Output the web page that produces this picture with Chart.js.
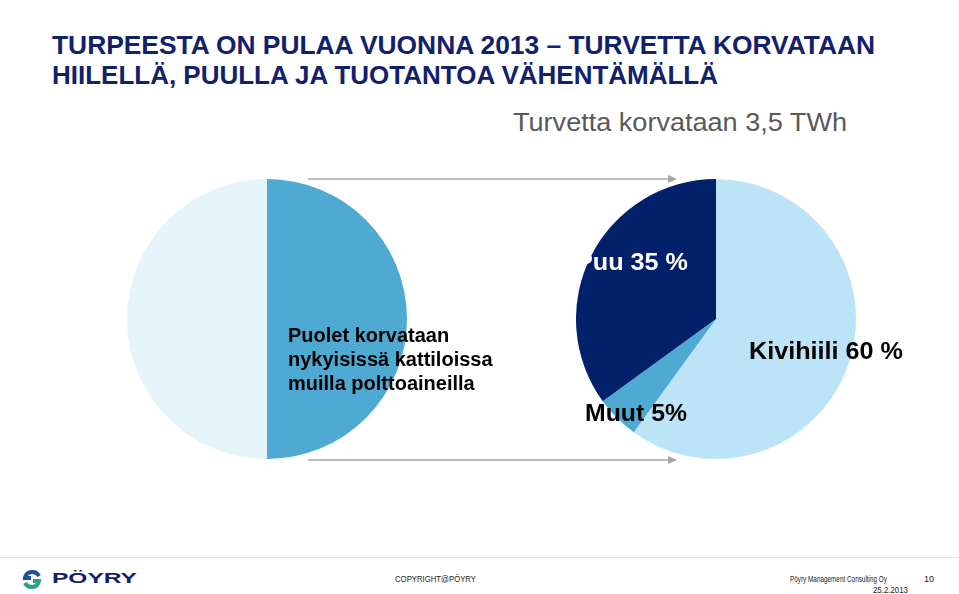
<!DOCTYPE html>
<html>
<head>
<meta charset="utf-8">
<script src="https://cdn.jsdelivr.net/npm/chart.js@4/dist/chart.umd.min.js"></script>
<style>
    html, body { margin: 0; padding: 0; background: #fff; }
    #page { position: relative; width: 959px; height: 594px; overflow: hidden; font-family: "Liberation Sans", Arial, sans-serif; }
    .abs { position: absolute; white-space: nowrap; line-height: 1; }
    .fit { transform-origin: 0 0; }
    .title { left: 52px; color: #12216b; font-weight: bold; font-size: 25px; }
    .sub { left: 513px; top: 110px; color: #595959; font-size: 25px; }
    .lbl { font-weight: bold; font-size: 20px; color: #000; }
    .big { font-size: 23px; }
    .foot { font-size: 9px; color: #222; }
    #pieLeft { position: absolute; left: 127px; top: 179px; }
    #pieRight { position: absolute; left: 576px; top: 179px; }
</style>
</head>
<body>
<div id="page">
    <div class="abs title fit" style="top:33px" data-w="823">TURPEESTA ON PULAA VUONNA 2013 – TURVETTA KORVATAAN</div>
    <div class="abs title fit" style="top:63px" data-w="666">HIILELLÄ, PUULLA JA TUOTANTOA VÄHENTÄMÄLLÄ</div>
    <div class="abs sub fit" data-w="334">Turvetta korvataan 3,5 TWh</div>

    <svg class="abs" style="left:0;top:0" width="959" height="594">
        <line x1="308" y1="179" x2="670" y2="179" stroke="#a6a6a6" stroke-width="1.5"/>
        <polygon points="668,175 677,179 668,183" fill="#a6a6a6"/>
        <line x1="308" y1="460" x2="670" y2="460" stroke="#a6a6a6" stroke-width="1.5"/>
        <polygon points="668,456 677,460 668,464" fill="#a6a6a6"/>
        <line x1="0" y1="557.5" x2="959" y2="557.5" stroke="#e3e3e3" stroke-width="1"/>
        <path d="M 39 576 A 7.5 7.5 0 0 0 25 578 L 31 578" fill="none" stroke="#1d4f9c" stroke-width="4"/>
        <path d="M 25 583 A 7.5 7.5 0 0 0 39 581 L 33 581" fill="none" stroke="#2a9f8a" stroke-width="4"/>
    </svg>

    <canvas id="pieLeft" width="280" height="280"></canvas>
    <canvas id="pieRight" width="280" height="280"></canvas>

    <div class="abs lbl" style="left:288px;top:325px">Puolet korvataan</div>
    <div class="abs lbl" style="left:288px;top:349px">nykyisissä kattiloissa</div>
    <div class="abs lbl" style="left:288px;top:373px">muilla polttoaineilla</div>

    <div class="abs lbl big fit" style="left:576px;top:251px;color:#fff" data-w="112">Puu 35 %</div>
    <div class="abs lbl big fit" style="left:749px;top:340px" data-w="154">Kivihiili 60 %</div>
    <div class="abs lbl big fit" style="left:585px;top:402px" data-w="102">Muut 5%</div>

    <div class="abs fit" style="left:52px;top:570px;font-weight:bold;font-size:15px;color:#12216b" data-w="85">PÖYRY</div>
    <div class="abs foot fit" style="left:395px;top:575px" data-w="81">COPYRIGHT@PÖYRY</div>
    <div class="abs foot fit" style="left:790px;top:575px" data-w="97">Pöyry Management Consulting Oy</div>
    <div class="abs foot" style="left:924px;top:575px">10</div>
    <div class="abs foot fit" style="left:873px;top:586px" data-w="35">25.2.2013</div>
</div>

<script>
    // left pie: half of the peat is replaced in current boilers
    var leftLabels = ['Korvataan muilla polttoaineilla', 'Muu osuus'];
    var leftValues = [50, 50];
    var leftColors = ['#4faad3', '#e5f4fb'];

    // right pie: what replaces the peat (3,5 TWh)
    var rightLabels = ['Kivihiili', 'Muut', 'Puu'];
    var rightValues = [60, 5, 35];
    var rightColors = ['#bde3f6', '#4faad3', '#03206b'];

    // squeeze texts to the width they have in the slide (narrow font)
    document.querySelectorAll('.fit').forEach(function (el) {
        var w = el.getBoundingClientRect().width;
        var target = parseFloat(el.getAttribute('data-w'));
        el.style.transform = 'scaleX(' + (target / w) + ')';
    });

    function pieOptions() {
        return {
            responsive: false,
            animation: false,
            layout: { padding: 0 },
            plugins: { legend: { display: false }, tooltip: { enabled: false } }
        };
    }

    new Chart(document.getElementById('pieLeft'), {
        type: 'pie',
        data: {
            labels: leftLabels,
            datasets: [{ data: leftValues, backgroundColor: leftColors, borderWidth: 0 }]
        },
        options: pieOptions()
    });

    new Chart(document.getElementById('pieRight'), {
        type: 'pie',
        data: {
            labels: rightLabels,
            datasets: [{ data: rightValues, backgroundColor: rightColors, borderWidth: 0 }]
        },
        options: pieOptions()
    });
</script>
</body>
</html>
